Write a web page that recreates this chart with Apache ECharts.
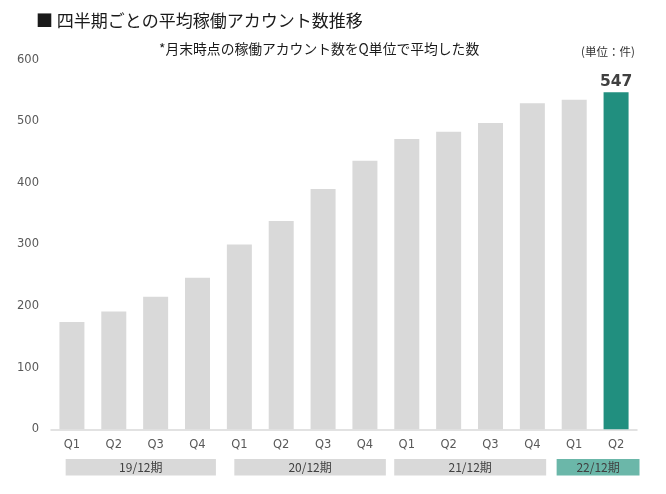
<!DOCTYPE html>
<html><head><meta charset="utf-8">
<script src="https://cdn.jsdelivr.net/npm/echarts@6/dist/echarts.min.js"></script>
<style>html,body{margin:0;padding:0;background:#fff}#c{width:666px;height:494px}</style>
</head><body><div id="c"></div>
<script>
const quarters = ['Q1','Q2','Q3','Q4','Q1','Q2','Q3','Q4','Q1','Q2','Q3','Q4','Q1','Q2'];
const accounts = [174,191,215,246,300,338,390,436,471,483,497,529,535,547];
const periods = ['19/12期','20/12期','21/12期','22/12期'];
const periodStart = [0,4,8,12];
const periodEnd = [3,7,11,13];
const yTicks = [0,100,200,300,400,500,600];

const FONT = '"Noto Sans CJK JP","Noto Sans",sans-serif';
const NUMFONT = '"DejaVu Sans",sans-serif';
const GREY = '#d9d9d9', TEAL = '#218f7f', TEAL_LIGHT = '#6bb7a9';
const bandPad = [[-0.15,0.44],[-0.12,0.5],[-0.3,0.33],[-0.42,0.56]];
const last = accounts.length - 1;

const chart = echarts.init(document.getElementById('c'), null, {renderer:'canvas'});
chart.setOption({
  animation:false,
  title:[
    {text:'■ 四半期ごとの平均稼働アカウント数推移', left:31, top:7,
     textStyle:{fontFamily:FONT, fontSize:17, fontWeight:'normal', color:'#1a1a1a'}},
    {text:'*月末時点の稼働アカウント数をQ単位で平均した数', left:154, top:37,
     textStyle:{fontFamily:FONT, fontSize:13.8, fontWeight:'normal', color:'#1a1a1a'}},
    {text:'(単位：件)', left:576, top:41,
     textStyle:{fontFamily:FONT, fontSize:11.5, fontWeight:'normal', color:'#333'}}
  ],
  grid:{left:51, right:29, top:59.6, bottom:64.7},
  xAxis:{type:'category', data:quarters,
    axisLine:{lineStyle:{color:GREY, width:1.5}}, axisTick:{show:false},
    axisLabel:{color:'#595959', fontFamily:NUMFONT, fontSize:11.5, margin:10}},
  yAxis:{type:'value', min:0, max:600, interval:100,
    axisLine:{show:false}, axisTick:{show:false}, splitLine:{show:false},
    axisLabel:{color:'#595959', fontFamily:NUMFONT, fontSize:11.5, margin:12,
      formatter:v=> yTicks.includes(v) ? String(v) : ''}},
  series:[
    {type:'bar', barWidth:25,
     data:accounts.map((v,i)=> i===last ? {value:v, itemStyle:{color:TEAL},
        label:{show:true, position:'top', distance:2, color:'#404040', fontWeight:'bold', fontSize:15.5, fontFamily:NUMFONT}} : v),
     itemStyle:{color:GREY}},
    {type:'custom', silent:true, clip:false,
     data:periods.map((p,i)=>[periodStart[i], periodEnd[i], 0, p]),
     encode:{x:[0,1], y:2},
     renderItem:(params, api)=>{
       const i = params.dataIndex;
       const s = api.value(0), e = api.value(1);
       const a = api.coord([s,0]), b = api.coord([e,0]);
       const step = api.size([1,0])[0];
       const x0 = a[0] + bandPad[i][0]*step, x1 = b[0] + bandPad[i][1]*step;
       const y0 = a[1] + 29.7, h = 16.5;
       return {type:'group', children:[
         {type:'rect', shape:{x:x0, y:y0, width:x1-x0, height:h},
          style:{fill: i===periods.length-1 ? TEAL_LIGHT : GREY}},
         {type:'text', x:(x0+x1)/2, y:y0+h/2,
          style:{text:periods[i], fill:'#404040', font:'12px '+FONT, align:'center', verticalAlign:'middle'}}
       ]};
     }}
  ]
});
</script></body></html>
